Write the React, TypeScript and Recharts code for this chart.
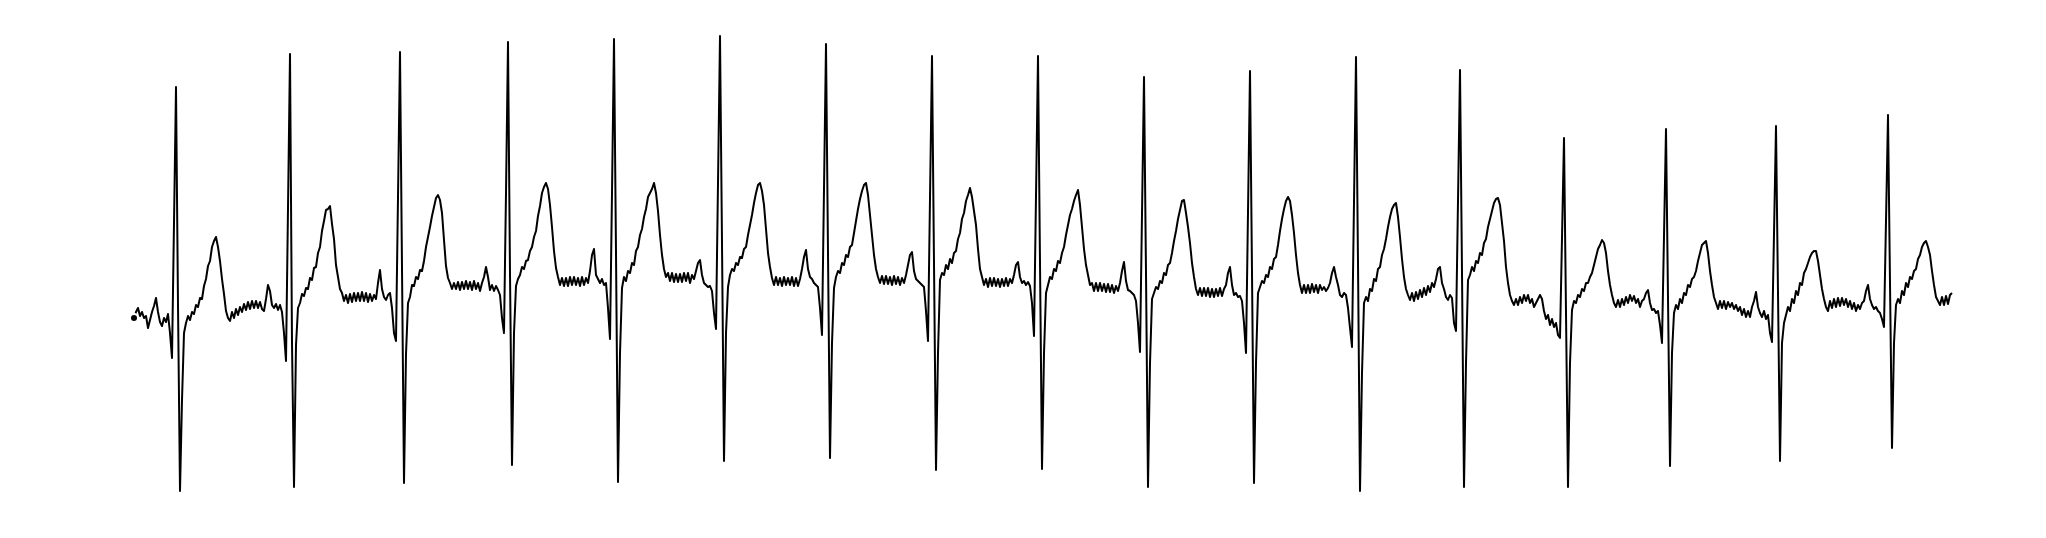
import React from 'react';
import { LineChart, Line, XAxis, YAxis } from 'recharts';

// ECG trace, one value per sample (adc units, baseline ~0)
const lead = [-5, 1, 5, -3, 1, -5, -3, -15, -7, 1, 7, 15, 1, -9, -13, -5, -9, -1, -20, -45, 90];

const beat1 = [226, 8, -178, -87, -20, -10, -3, -7, 1, -1, 8, 6, 15, 14, 27, 34, 47, 52, 66, 72, 76, 66, 52, 34, 19, 2, -5,
  -8, 1, -5, 4, -2, 6, 1, 9, 3, 11, 4, 12, 5, 12, 5, 11, 4, 2, 14, 28, 22, 8, 5, 9, 3, 8, 1, -20, -48, 105];

const beat2 = [259, -30, -174, -32, 5, 10, 19, 17, 25, 24, 35, 33, 45, 46, 60, 66, 82, 92, 103, 104, 107, 89, 74, 48, 36,
  24, 20, 12, 18, 10, 19, 11, 20, 12, 20, 12, 21, 12, 20, 11, 19, 12, 18, 14, 30, 43, 24, 16, 13, 18, 20, 5, -20, -28, 116];

const beat3 = [261, 45, -170, -41, 10, 16, 28, 27, 36, 34, 43, 42, 52, 66, 76, 86, 97, 106, 115, 118, 113, 100, 73, 47, 35,
  30, 24, 30, 24, 31, 23, 31, 24, 32, 24, 31, 23, 32, 24, 30, 22, 30, 36, 46, 36, 23, 28, 22, 27, 23, 18, -5, -20, 120];

const beat4 = [271, 40, -152, -20, 27, 34, 38, 46, 44, 52, 53, 62, 66, 76, 82, 97, 107, 120, 126, 130, 124, 108, 86, 62, 45,
  36, 28, 35, 27, 35, 27, 36, 28, 36, 28, 35, 27, 36, 28, 35, 30, 42, 58, 64, 38, 34, 30, 34, 28, 30, 5, -26, 120];

const beat5 = [274, 60, -169, -40, 25, 36, 32, 42, 40, 50, 48, 62, 66, 78, 84, 96, 104, 116, 120, 124, 130, 120, 102, 78, 58,
  44, 36, 40, 32, 40, 31, 39, 31, 39, 31, 40, 32, 40, 30, 38, 34, 42, 50, 53, 38, 30, 28, 26, 27, 22, 0, -16, 130];

const beat6 = [277, 70, -148, -20, 26, 38, 44, 42, 50, 48, 56, 55, 64, 66, 78, 88, 98, 110, 120, 128, 130, 122, 108, 84, 60,
  46, 35, 28, 36, 28, 35, 27, 36, 28, 35, 28, 36, 27, 35, 27, 34, 44, 56, 63, 44, 36, 34, 30, 28, 26, 5, -22, 124];

const beat7 = [269, 60, -145, -30, 25, 36, 42, 40, 50, 48, 58, 56, 66, 68, 80, 92, 104, 114, 122, 128, 130, 118, 98, 78, 58,
  44, 36, 30, 37, 29, 37, 29, 36, 28, 37, 29, 36, 28, 35, 30, 38, 48, 58, 61, 42, 34, 32, 30, 28, 26, 2, -28, 115];

const beat8 = [257, 50, -157, -40, 33, 40, 38, 48, 44, 54, 50, 60, 62, 74, 80, 94, 100, 112, 118, 125, 116, 102, 88, 64, 44,
  36, 28, 34, 26, 35, 27, 35, 27, 34, 26, 34, 27, 35, 27, 34, 30, 38, 48, 51, 36, 30, 32, 28, 31, 27, 10, -23, 117];

const beat9 = [257, 50, -156, -40, 20, 28, 36, 34, 44, 42, 52, 50, 60, 66, 78, 88, 98, 104, 112, 118, 123, 108, 86, 64, 48,
  38, 28, 30, 22, 30, 22, 30, 22, 29, 21, 29, 21, 28, 20, 27, 22, 30, 42, 51, 32, 23, 22, 20, 18, 12, -10, -39, 99];

const beat10 = [236, 40, -174, -50, 14, 20, 26, 24, 32, 30, 40, 38, 48, 50, 60, 72, 82, 94, 103, 112, 113, 100, 86, 70, 50,
  36, 24, 18, 25, 17, 25, 17, 25, 16, 24, 16, 24, 17, 25, 17, 24, 28, 40, 46, 28, 18, 20, 16, 17, 12, -10, -40, 101];

const beat11 = [242, 40, -170, -50, 20, 26, 32, 30, 38, 36, 46, 44, 54, 56, 68, 82, 94, 104, 112, 116, 112, 98, 80, 58, 40,
  28, 20, 28, 20, 28, 20, 29, 21, 28, 20, 28, 23, 26, 22, 25, 30, 40, 46, 36, 28, 18, 16, 20, 18, 5, -15, -34, 111];

const beat12 = [256, 50, -178, -60, 10, 16, 12, 24, 22, 34, 32, 44, 46, 58, 64, 74, 86, 96, 104, 108, 110, 96, 76, 54, 36,
  24, 18, 13, 20, 12, 21, 14, 23, 16, 25, 18, 27, 21, 30, 26, 34, 44, 46, 30, 24, 16, 13, 18, 15, -10, -18, 112];

const beat13 = [243, 40, -174, -50, 33, 38, 46, 42, 52, 50, 60, 58, 70, 74, 86, 94, 102, 110, 114, 115, 108, 90, 72, 46, 30,
  18, 12, 8, 14, 8, 16, 10, 18, 12, 18, 10, 14, 6, 10, 14, 18, 14, 2, -6, -2, -12, -6, -14, -10, -22, -25, 75];

const beat14 = [175, 0, -174, -50, 3, 12, 10, 18, 16, 24, 22, 30, 30, 36, 40, 48, 56, 64, 68, 73, 70, 60, 42, 28, 18,
  10, 6, 13, 6, 14, 8, 16, 10, 18, 12, 17, 10, 14, 6, 12, 14, 20, 23, 10, 3, 4, 0, 2, -12, -30, 77];

const beat15 = [184, 15, -153, -40, 0, 8, 4, 14, 10, 20, 18, 28, 26, 34, 36, 42, 52, 60, 68, 70, 72, 60, 42, 28, 16,
  10, 4, 12, 5, 12, 4, 11, 6, 10, 4, 8, 2, 6, -2, 4, -4, 2, -4, 6, 12, 21, 6, 0, -4, 2, -6, -2, -20, -29, 79];

const beat16 = [187, 20, -148, -30, -10, -2, 6, 2, 14, 10, 22, 18, 30, 28, 40, 44, 50, 56, 60, 62, 62, 52, 38, 24, 14,
  6, 2, 12, 5, 14, 6, 15, 7, 15, 8, 14, 6, 12, 4, 10, 2, 8, 4, 10, 12, 22, 28, 14, 8, 4, 6, 2, 0, -6, -14, 92];

const beat17 = [198, 30, -135, -30, 8, 14, 10, 22, 18, 30, 26, 36, 34, 42, 44, 54, 58, 66, 70, 72, 66, 58, 42, 28, 16,
  12, 8, 16, 8, 17, 9, 18, 20];

const samples = [
  ...lead, ...beat1, ...beat2, ...beat3, ...beat4, ...beat5, ...beat6, ...beat7, ...beat8,
  ...beat9, ...beat10, ...beat11, ...beat12, ...beat13, ...beat14, ...beat15, ...beat16, ...beat17,
];

const data = samples.map((v, i) => ({ t: i, v }));

const App: React.FC = () => {
  return (
    <div style={{ position: 'absolute', left: 0, top: 0, width: 2046, height: 538, background: '#fff' }}>
      <LineChart width={2046} height={538} data={data} margin={{ top: 0, right: 0, bottom: 0, left: 0 }}>
        <XAxis dataKey="t" type="number" domain={[-67, 956]} allowDataOverflow hide />
        <YAxis type="number" domain={[-225, 313]} allowDataOverflow hide />
        <Line
          type="linear"
          dataKey="v"
          stroke="#000"
          strokeWidth={2}
          strokeLinejoin="round"
          dot={false}
          isAnimationActive={false}
        />
      </LineChart>
    </div>
  );
};

export default App;
